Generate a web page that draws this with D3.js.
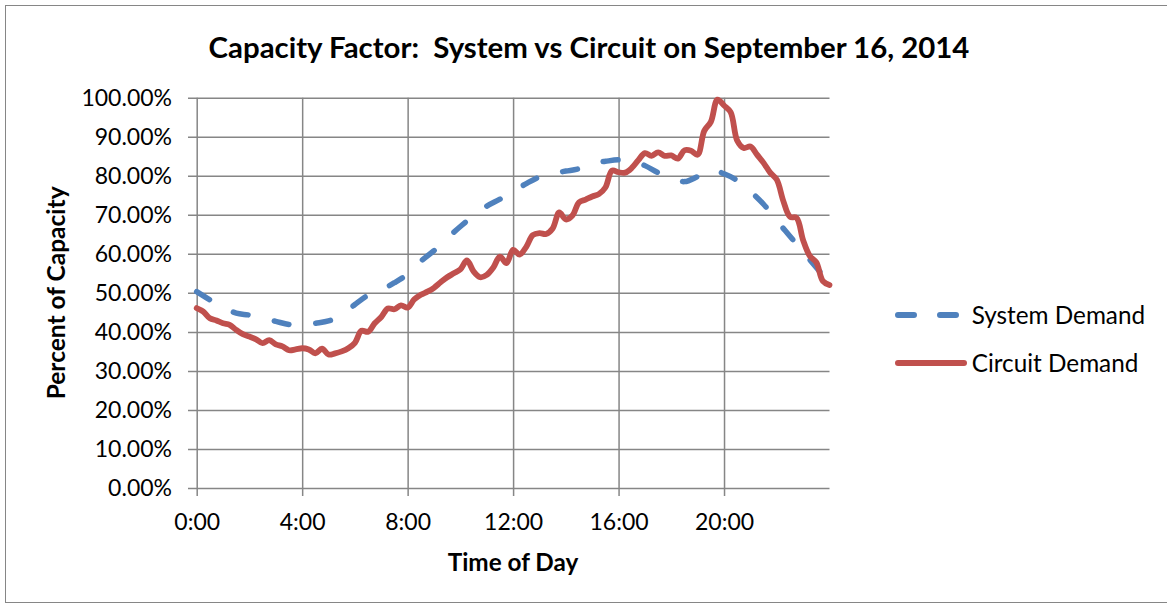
<!DOCTYPE html>
<html><head><meta charset="utf-8">
<script src="https://cdn.jsdelivr.net/npm/d3@7"></script>
<style>
body{margin:0;background:#fff}
svg{display:block}
text{font-family:Lato,"Open Sans",sans-serif;fill:#000}
</style></head>
<body><svg id="c" width="1167" height="607"></svg>
<script>
const chartTitle = "Capacity Factor:  System vs Circuit on September 16, 2014";
const xTitle = "Time of Day";
const yTitle = "Percent of Capacity";
const seriesNames = ["System Demand", "Circuit Demand"];
const xTickHours = [0, 4, 8, 12, 16, 20];
const yTickValues = [0, 0.1, 0.2, 0.3, 0.4, 0.5, 0.6, 0.7, 0.8, 0.9, 1.0];

// System demand (percent), half-hourly
const systemHours = [0,0.5,1,1.5,2,2.5,3,3.5,4,4.5,5,5.5,6,6.5,7,7.5,8,8.5,9,9.5,10,10.5,11,11.5,12,12.5,13,13.5,14,14.5,15,15.5,16,16.5,17,17.5,18,18.5,19,19.5,20,20.5,21,21.5,22,22.5,23,23.5,24];
const systemValues = [50.3,48.2,46.3,44.8,44.3,43.5,42.7,41.9,41.7,42.2,42.8,44.3,47.0,49.4,50.8,52.6,54.8,58.1,60.8,64.0,67.0,69.8,72.2,74.0,76.0,78.0,79.7,80.6,81.2,81.8,83.2,83.7,84.1,84.0,82.6,80.8,79.4,78.5,79.8,81.5,80.5,78.8,76.0,72.7,68.5,64.5,60.5,56.5,52.5];

// Circuit demand (percent), every 15 minutes from 0:00 to 24:00
const circuitStepMinutes = 15;
const circuitValues = [46.1,45.2,43.5,42.9,42.2,41.8,40.5,39.4,38.8,38.1,37.1,37.9,36.8,36.3,35.3,35.5,
35.8,35.5,34.5,35.7,34.2,34.5,35.0,35.8,37.2,40.3,40.0,42.2,43.8,46.0,45.8,46.8,
46.2,48.3,49.5,50.3,51.3,52.7,54.0,55.0,56.0,58.3,55.5,54.0,54.6,56.5,59.3,57.6,
61.0,59.8,61.8,64.8,65.3,65.1,66.5,70.6,68.8,69.8,73.2,73.9,74.7,75.3,77.0,81.3,
80.9,80.8,82.0,84.0,85.8,85.1,86.0,85.1,85.2,84.4,86.5,86.4,85.4,91.5,93.8,99.5,
98.0,96.3,89.0,87.1,87.5,85.4,83.3,80.8,79.0,73.5,69.5,69.2,63.5,59.5,57.8,53.0,52.0];

const colors = ["#4F81BD", "#C0504D"];

const svg = d3.select("#c");
const W = 1167, H = 607;
const plot = {left: 196.7, right: 829.5, top: 97.7, bottom: 488};

svg.append("rect").attr("x",5.5).attr("y",5.5).attr("width",W+10).attr("height",597)
  .attr("fill","#fff").attr("stroke","#868686").attr("stroke-width",1);

const x = d3.scaleLinear().domain([0,24]).range([plot.left, plot.right]);
const y = d3.scaleLinear().domain([0,1]).range([plot.bottom, plot.top]);

const gridColor = "#868686";
// horizontal gridlines + y labels
const yAxis = d3.axisLeft(y).tickValues(yTickValues).tickFormat(d3.format(".2%"))
  .tickSizeInner(-(plot.right - plot.left + 8.7)).tickSizeOuter(0).tickPadding(16);
const gy = svg.append("g").attr("transform",`translate(${plot.left-8.7},0)`).call(yAxis);
gy.select(".domain").remove();
gy.selectAll("line").attr("stroke",gridColor).attr("stroke-width",1.5);
gy.selectAll("text").attr("font-size",23).attr("fill","#000").style("font-family","Lato,sans-serif");

// vertical gridlines + x labels
const xAxis = d3.axisBottom(x).tickValues(xTickHours).tickFormat(d => d + ":00")
  .tickSizeInner(-(plot.bottom + 8 - plot.top)).tickSizeOuter(0).tickPadding(17.5);
const gx = svg.append("g").attr("transform",`translate(0,${plot.bottom+8})`).call(xAxis);
gx.select(".domain").remove();
gx.selectAll("line").attr("stroke",gridColor).attr("stroke-width",1.5);
gx.selectAll("text").attr("font-size",23).attr("fill","#000").style("font-family","Lato,sans-serif");

// series
const systemData = systemHours.map((h,i)=>({h, v: systemValues[i]/100}));
const circuitData = circuitValues.map((v,i)=>({h: i*circuitStepMinutes/60, v: v/100}));
const line = d3.line().x(d=>x(d.h)).y(d=>y(d.v)).curve(d3.curveCatmullRom.alpha(0.5));

svg.append("path").datum(systemData).attr("d",line).attr("fill","none")
  .attr("stroke",colors[0]).attr("stroke-width",5.5).attr("stroke-linecap","round")
  .attr("stroke-dasharray","15,27");
svg.append("path").datum(circuitData).attr("d",line).attr("fill","none")
  .attr("stroke",colors[1]).attr("stroke-width",5.8).attr("stroke-linecap","round")
  .attr("stroke-linejoin","round");

// title
svg.append("text").attr("x",589).attr("y",58).attr("text-anchor","middle")
  .attr("font-size",29.4).attr("font-weight","bold").style("white-space","pre").text(chartTitle);
// axis titles
svg.append("text").attr("x",513).attr("y",571).attr("text-anchor","middle")
  .attr("font-size",24.3).attr("font-weight","bold").text(xTitle);
svg.append("text").attr("transform",`translate(65,${(plot.top+plot.bottom)/2}) rotate(-90)`)
  .attr("text-anchor","middle").attr("font-size",24.5).attr("font-weight","bold").text(yTitle);

// legend
const legY = [315, 363];
seriesNames.forEach((name,i)=>{
  const g = svg.append("g");
  g.append("line").attr("x1",898).attr("x2",964).attr("y1",legY[i]).attr("y2",legY[i])
    .attr("stroke",colors[i]).attr("stroke-width",6).attr("stroke-linecap","round")
    .attr("stroke-dasharray", i===0 ? "16,26" : null);
  g.append("text").attr("x",971.7).attr("y",legY[i]).attr("dy","0.35em")
    .attr("font-size",24.3).text(name);
});
</script></body></html>
